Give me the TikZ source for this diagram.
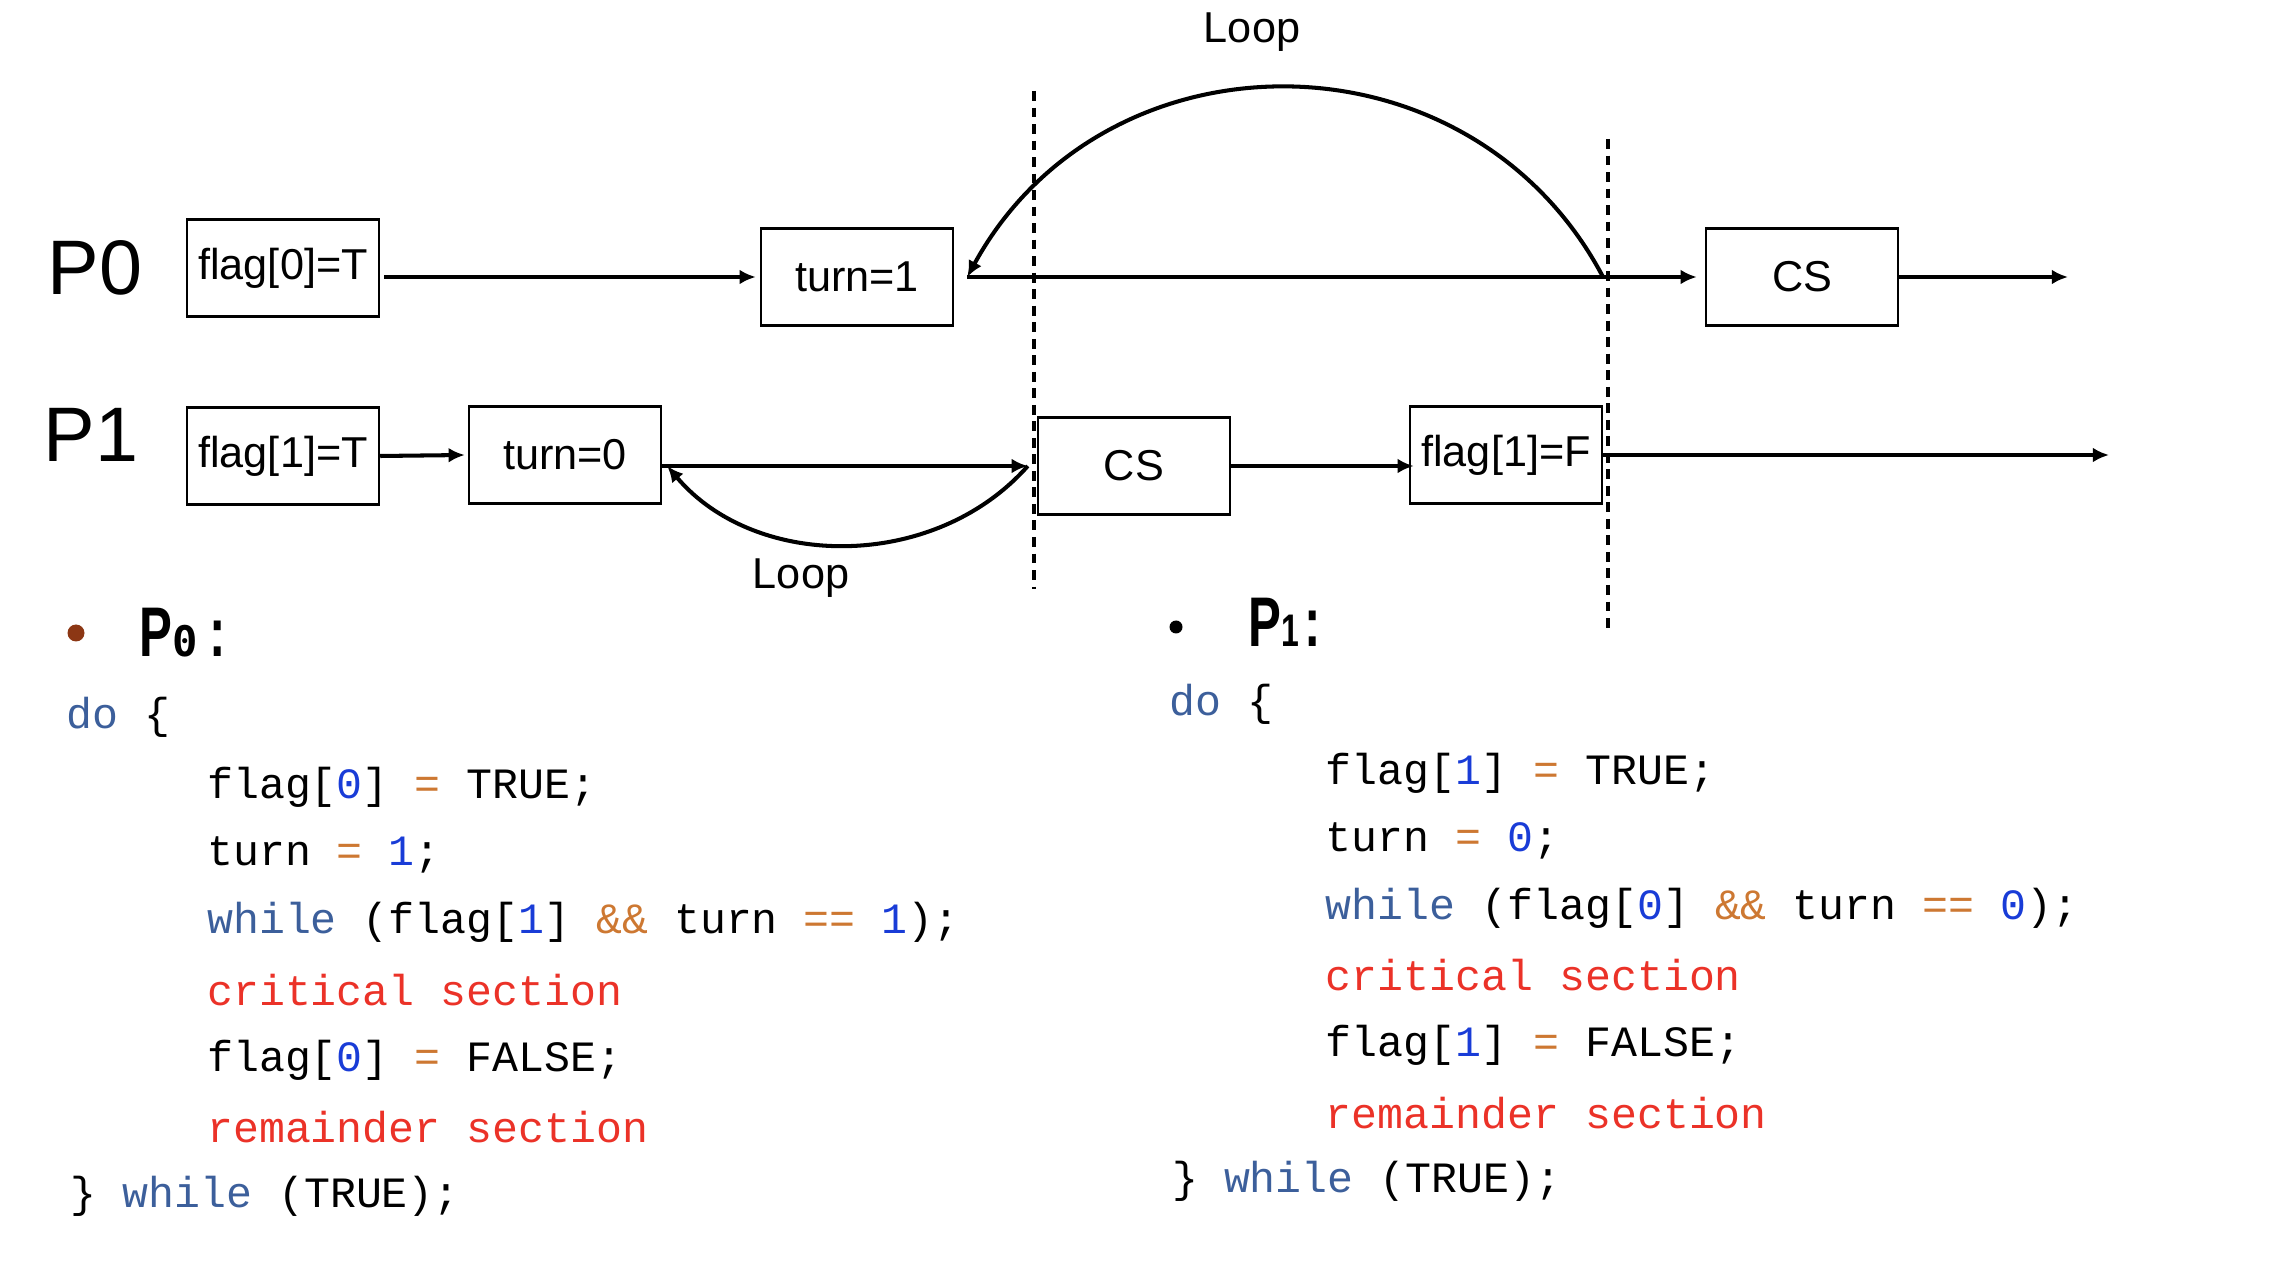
\documentclass[tikz,border=0pt]{standalone}
\usepackage{fontspec}
\setmainfont{Liberation Sans}
\newfontfamily\codefont{Liberation Mono}
\newfontfamily\zerofont{DejaVu Sans Mono}
\newfontfamily\headfont[FakeStretch=0.7]{Liberation Sans}
\usetikzlibrary{arrows.meta}

\definecolor{kwblue}{RGB}{60,95,155}
\definecolor{numblue}{RGB}{25,60,215}
\definecolor{oporange}{RGB}{205,120,50}
\definecolor{cmtred}{RGB}{235,50,40}
\definecolor{bulletbrown}{RGB}{140,55,20}

\newcommand{\kw}[1]{\textcolor{kwblue}{#1}}
\newcommand{\nm}[1]{\textcolor{numblue}{#1}}
\newcommand{\op}[1]{\textcolor{oporange}{#1}}
\newcommand{\rd}[1]{\textcolor{cmtred}{#1}}

\tikzset{
	stepbox/.style={draw, rectangle, line width=0.7pt, minimum width=1.92cm, minimum height=0.97cm, inner sep=0pt, font=\fontsize{12.3}{14}\selectfont},
	codeline/.style={anchor=west, inner sep=0pt, font=\fontsize{12.3}{14}\selectfont\codefont},
	flow/.style={line width=1.15pt},
	cut/.style={line width=1.1pt, dash pattern=on 2.8pt off 1.9pt},
	proc/.style={inner sep=0pt, font=\fontsize{22}{24}\selectfont},
	looplabel/.style={inner sep=0pt, font=\fontsize{12.3}{14}\selectfont},
}

\begin{document}
\begin{tikzpicture}[>={Latex[length=4.6pt,width=4.2pt]}]

	\useasboundingbox (0,0) rectangle (22.96,-12.74);
	\frenchspacing

	% Process names
	\draw (0.95,-2.68) node[proc] (p0) {P0};
	\draw (0.91,-4.35) node[proc] (p1) {P1};

	% P0 steps
	\draw (2.83,-2.68) node[stepbox] (flag0) {flag[0]=T};
	\draw (8.57,-2.77) node[stepbox] (turn1) {turn=1};
	\draw (18.02,-2.77) node[stepbox] (cs0) {CS};
	% P1 steps
	\draw (2.83,-4.56) node[stepbox] (flag1) {flag[1]=T};
	\draw (5.65,-4.55) node[stepbox] (turn0) {turn=0};
	\draw (11.34,-4.66) node[stepbox] (cs1) {CS};
	\draw (15.06,-4.55) node[stepbox] (flag1f) {flag[1]=F};

	\coordinate (wait0) at ([xshift=1.3mm]turn1.east);
	\coordinate (back0) at (16.03,-2.77);
	\coordinate (end0) at (20.68,-2.77);
	\coordinate (spin1) at ([xshift=-0.9mm]cs1.west);
	\coordinate (retry1) at ([xshift=0.5mm]turn0.east |- cs1.west);
	\coordinate (end1) at (21.09,-4.55);

	% time lines
	\draw[->, flow] ([xshift=0.4mm]flag0.east |- turn1.west) -- ([xshift=-0.4mm]turn1.west);
	\draw[->, flow] (wait0) -- ([xshift=-0.8mm]cs0.west);
	\draw[->, flow] (cs0.east) -- (end0);
	\draw[->, flow] (flag1.east) -- ([xshift=-0.3mm]turn0.west);
	\draw[->, flow] (turn0.east |- cs1.west) -- (spin1);
	\draw[->, flow] (cs1.east) -- ([xshift=0.5mm]flag1f.west |- cs1.east);
	\draw[->, flow] (flag1f.east) -- (end1);

	% busy waiting
	\draw[->, flow] (back0) .. controls (14.7,-0.25) and (11.05,-0.25) .. (wait0);
	\draw[->, flow] (spin1) .. controls (9.35,-5.71) and (7.56,-5.71) .. (retry1);
	\draw (12.52,-0.32) node[looplabel] (loop0) {Loop};
	\draw (8.01,-5.78) node[looplabel] (loop1) {Loop};

	% critical section borders
	\draw[cut] (10.34,-0.91) -- (10.34,-5.89);
	\draw[cut] (16.08,-1.39) -- (16.08,-6.34);

	% code of P0
	\draw (0.76,-6.33) node[circle, fill=bulletbrown, inner sep=0pt, minimum size=0.17cm] (dot0) {};
	\draw (1.39,-6.33) node[anchor=west, inner sep=0pt] (head0) {\fontsize{20}{22}\headfont\bfseries P{\fontsize{12}{14}\zerofont\bfseries 0}\hspace{0.12cm}\textbf{:}};
	\draw (0.66,-7.175) node[codeline] (do0) {\kw{do} \{};
	\draw (2.065,-7.878) node[codeline] (set0) {flag[\nm{0}] \op{=} TRUE;};
	\draw (2.065,-8.552) node[codeline] (give0) {turn \op{=} \nm{1};};
	\draw (2.065,-9.225) node[codeline] (wait0c) {\kw{while} (flag[\nm{1}] \op{\&\&} turn \op{==} \nm{1});};
	\draw (2.065,-9.899) node[codeline] (crit0) {\rd{critical section}};
	\draw (2.065,-10.601) node[codeline] (reset0) {flag[\nm{0}] \op{=} FALSE;};
	\draw (2.065,-11.275) node[codeline] (rem0) {\rd{remainder section}};
	\draw (0.70,-11.963) node[codeline] (loopend0) {\} \kw{while} (TRUE);};

	% code of P1
	\draw (11.76,-6.27) node[circle, fill=black, inner sep=0pt, minimum size=0.13cm] (dot1) {};
	\draw (12.48,-6.22) node[anchor=west, inner sep=0pt] (head1) {\fontsize{20}{22}\headfont\bfseries P{\fontsize{13}{14}\headfont\bfseries 1}\hspace{0.05cm}\textbf{:}};
	\draw (11.685,-7.043) node[codeline] (do1) {\kw{do} \{};
	\draw (13.252,-7.731) node[codeline] (set1) {flag[\nm{1}] \op{=} TRUE;};
	\draw (13.252,-8.405) node[codeline] (give1) {turn \op{=} \nm{0};};
	\draw (13.252,-9.079) node[codeline] (wait1c) {\kw{while} (flag[\nm{0}] \op{\&\&} turn \op{==} \nm{0});};
	\draw (13.252,-9.752) node[codeline] (crit1) {\rd{critical section}};
	\draw (13.252,-10.455) node[codeline] (reset1) {flag[\nm{1}] \op{=} FALSE;};
	\draw (13.252,-11.129) node[codeline] (rem1) {\rd{remainder section}};
	\draw (11.714,-11.817) node[codeline] (loopend1) {\} \kw{while} (TRUE);};

\end{tikzpicture}
\end{document}
